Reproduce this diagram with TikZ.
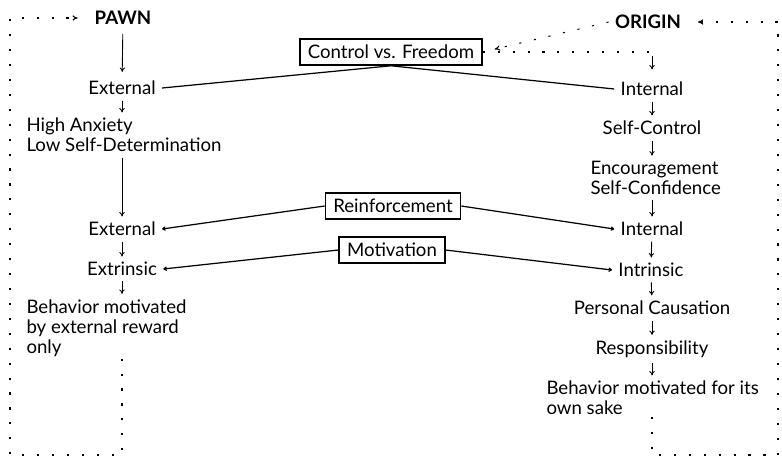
\documentclass[tikz,border=0pt]{standalone}
\usepackage{fontspec}
\setmainfont{Lato}
\usetikzlibrary{arrows.meta}
\tikzset{
  txt/.style={font=\fontsize{10.6}{11.4}\selectfont, inner xsep=3.5pt, inner ysep=1pt},
  head/.style={txt, font=\fontsize{10.6}{11.4}\selectfont\bfseries},
  topicbox/.style={txt, draw, line width=0.8pt, inner xsep=4.5pt, inner ysep=3.5pt},
  flow/.style={-{To[length=2.5pt,width=3pt]}, line width=0.5pt, shorten <=2pt, shorten >=2pt},
  tie/.style={line width=0.7pt},
  dotpath/.style={dash pattern=on 1.2pt off 7.3pt, line width=0.6pt},
}
\begin{document}
\begin{tikzpicture}[x=0.02cm, y=-0.02cm]
    \useasboundingbox (0,0) rectangle (782,460);
    % Pawn side
    \node[head] (pawn) at (123,18) {PAWN};
    \node[txt] (extA) at (122,88) {External};
    \node[txt, anchor=west, align=left] (anx) at (20,135) {High Anxiety\\Low Self-Determination};
    \node[txt] (extB) at (122,229) {External};
    \node[txt] (extr) at (122,269) {Extrinsic};
    \node[txt, anchor=west, align=left] (behL) at (20,328) {Behavior motivated\\by external reward\\only};
    % Origin side
    \node[head] (origin) at (648,22) {ORIGIN};
    \node[txt] (intA) at (652,89) {Internal};
    \node[txt] (selfc) at (652,128) {Self-Control};
    \node[txt, anchor=west, align=left] (enc) at (584,178) {Encouragement\\Self-Confidence};
    \node[txt] (intB) at (652,229) {Internal};
    \node[txt] (intr) at (651,270) {Intrinsic};
    \node[txt] (cause) at (652,308) {Personal Causation};
    \node[txt] (resp) at (652,349) {Responsibility};
    \node[txt, anchor=west, align=left] (behR) at (540,398) {Behavior motivated for its\\own sake};
    % Issues in the middle
    \node[topicbox] (ctrl) at (391,52) {Control vs. Freedom};
    \node[topicbox] (reinf) at (393,206) {Reinforcement};
    \node[topicbox] (motiv) at (392,250) {Motivation};
    % chains
    \draw[flow, shorten <=4pt, shorten >=4pt] (pawn) -- (extA);
    \draw[flow] (extA) -- (extA |- anx.north);
    \draw[flow] (anx.south -| extB) -- (extB);
    \draw[flow] (extB) -- (extr);
    \draw[flow] (extr) -- (extr |- behL.north);
    \draw[flow] (intA) -- (selfc);
    \draw[flow] (selfc) -- (selfc |- enc.north);
    \draw[flow] (enc.south -| intB) -- (intB);
    \draw[flow] (intB) -- (intr);
    \draw[flow] (intr) -- (cause);
    \draw[flow] (cause) -- (resp);
    \draw[flow] (resp) -- (resp |- behR.north);
    % links to the issues
    \draw[tie] (ctrl.south) -- (extA.east);
    \draw[tie] (ctrl.south) -- (intA.west);
    \draw[tie, -{To[length=2pt,width=2.5pt]}] (reinf.west) -- (extB.east);
    \draw[tie, -{To[length=2pt,width=2.5pt]}] (reinf.east) -- (intB.west);
    \draw[tie, -{To[length=2pt,width=2.5pt]}] (motiv.west) -- (extr.east);
    \draw[tie, -{To[length=2pt,width=2.5pt]}] (motiv.east) -- (intr.west);
    % dotted feedback loops
    \coordinate (swL) at (10,455);
    \coordinate (nwL) at (10,18);
    \coordinate (seR) at (778,455);
    \coordinate (neR) at (778,22);
    \draw[dotpath, -{To[length=3pt,width=3pt]}, shorten >=6pt] (extr |- behL.south) -- (extr |- swL) -- (swL) -- (nwL) -- (pawn.west);
    \draw[dotpath, -{To[length=3pt,width=3pt]}, shorten >=6pt] (resp |- behR.south) -- (resp |- seR) -- (seR) -- (neR) -- (origin.east);
    \draw[dotpath, -{To[length=3pt,width=3pt]}, shorten >=7pt] (origin.west) -- (ctrl.east);
    \draw[dotpath] (ctrl.east) -- (ctrl.east -| intA);
    \draw[flow, shorten >=6pt] (ctrl.east -| intA) -- (intA);
\end{tikzpicture}
\end{document}
